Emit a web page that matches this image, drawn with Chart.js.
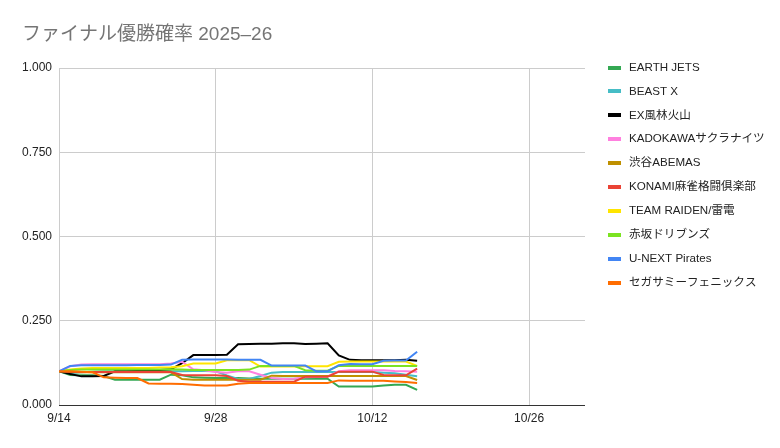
<!DOCTYPE html>
<html>
<head>
<meta charset="utf-8">
<script src="https://cdn.jsdelivr.net/npm/chart.js@4"></script>
<style>
html,body{margin:0;padding:0;background:#fff;}
#wrap{width:780px;height:448px;}
</style>
</head>
<body>
<div id="wrap"><canvas id="c" width="780" height="448"></canvas></div>
<script>
const chartTitle = 'ファイナル優勝確率 2025–26';
const dates = ['9/14','9/15','9/16','9/17','9/18','9/19','9/20','9/21','9/22','9/23','9/24','9/25','9/26','9/27','9/28','9/29','9/30',
  '10/1','10/2','10/3','10/4','10/5','10/6','10/7','10/8','10/9','10/10','10/11','10/12','10/13','10/14','10/15','10/16'];
const tickLabels = ['9/14','9/28','10/12','10/26'];
const axisEnd = '10/31';
const yTicks = [0, 0.25, 0.5, 0.75, 1];

const teams = ['EARTH JETS','BEAST X','EX風林火山','KADOKAWAサクラナイツ','渋谷ABEMAS','KONAMI麻雀格闘倶楽部','TEAM RAIDEN/雷電','赤坂ドリブンズ','U-NEXT Pirates','セガサミーフェニックス'];
const colors = ['#34a853','#46bdc6','#000000','#ff80df','#bf9000','#ea4335','#ffe500','#7be321','#4285f4','#ff6d01'];

const earthJets = [0.100,0.089,0.088,0.088,0.086,0.075,0.075,0.075,0.075,0.075,0.090,0.088,0.082,0.081,0.080,0.080,0.080,
  0.079,0.078,0.078,0.078,0.078,0.078,0.078,0.078,0.055,0.055,0.055,0.055,0.058,0.060,0.060,0.045];
const beastX = [0.100,0.094,0.097,0.099,0.100,0.100,0.100,0.100,0.100,0.100,0.100,0.100,0.101,0.101,0.100,0.088,0.077,
  0.077,0.086,0.096,0.098,0.098,0.098,0.098,0.098,0.098,0.098,0.098,0.098,0.096,0.094,0.090,0.085];
const exFurin = [0.100,0.092,0.085,0.085,0.086,0.100,0.100,0.101,0.102,0.104,0.106,0.124,0.148,0.148,0.148,0.149,0.180,
  0.181,0.182,0.182,0.183,0.183,0.181,0.182,0.183,0.147,0.134,0.133,0.133,0.133,0.133,0.134,0.131];
const kadokawa = [0.100,0.115,0.120,0.121,0.121,0.121,0.121,0.121,0.121,0.121,0.123,0.128,0.106,0.103,0.098,0.096,0.100,
  0.100,0.090,0.080,0.077,0.078,0.082,0.083,0.085,0.100,0.103,0.103,0.103,0.103,0.101,0.100,0.099];
const shibuya = [0.100,0.098,0.097,0.097,0.097,0.097,0.097,0.097,0.097,0.097,0.097,0.077,0.075,0.075,0.075,0.075,0.075,
  0.075,0.075,0.087,0.086,0.086,0.086,0.086,0.086,0.086,0.086,0.086,0.086,0.086,0.086,0.086,0.074];
const konami = [0.100,0.099,0.098,0.098,0.098,0.098,0.098,0.098,0.098,0.098,0.098,0.089,0.088,0.088,0.088,0.086,0.072,
  0.069,0.069,0.069,0.069,0.069,0.084,0.084,0.084,0.099,0.099,0.099,0.099,0.089,0.088,0.088,0.108];
const raiden = [0.100,0.105,0.108,0.110,0.110,0.110,0.110,0.110,0.110,0.111,0.112,0.115,0.123,0.123,0.123,0.133,0.133,
  0.133,0.114,0.114,0.114,0.114,0.115,0.115,0.115,0.128,0.129,0.129,0.129,0.129,0.129,0.129,0.116];
const akasaka = [0.100,0.104,0.105,0.105,0.105,0.105,0.105,0.105,0.105,0.105,0.106,0.105,0.104,0.104,0.104,0.104,0.104,
  0.105,0.116,0.116,0.116,0.116,0.103,0.102,0.102,0.116,0.116,0.116,0.116,0.116,0.116,0.116,0.116];
const unext = [0.100,0.116,0.118,0.118,0.118,0.118,0.118,0.119,0.119,0.119,0.120,0.134,0.135,0.135,0.135,0.135,0.134,
  0.134,0.134,0.117,0.117,0.117,0.117,0.100,0.100,0.118,0.122,0.121,0.121,0.131,0.132,0.132,0.158];
const segasammy = [0.100,0.100,0.099,0.097,0.082,0.081,0.080,0.080,0.064,0.063,0.063,0.062,0.060,0.058,0.058,0.058,0.063,
  0.065,0.065,0.065,0.065,0.065,0.065,0.065,0.065,0.073,0.072,0.072,0.072,0.072,0.070,0.068,0.065];

const seriesValues = [earthJets, beastX, exFurin, kadokawa, shibuya, konami, raiden, akasaka, unext, segasammy];

function dayOf(s){
  const p = s.split('/').map(Number);
  return Math.round((Date.UTC(2025, p[0]-1, p[1]) - Date.UTC(2025, 8, 14)) / 864e5);
}
const xs = dates.map(dayOf);
const tickDays = tickLabels.map(dayOf);

const FONT = "'Liberation Sans', Arial, 'Noto Sans CJK JP', sans-serif";
const n = teams.length;
const datasets = teams.map((t, i) => ({
  label: t,
  data: seriesValues[i].map((v, k) => ({x: xs[k], y: v})),
  borderColor: colors[i],
  backgroundColor: colors[i],
  borderWidth: 2,
  pointRadius: 0,
  tension: 0,
  order: n - 1 - i
}));

const overlay = {
  id: 'overlay',
  afterDraw(chart) {
    const ctx = chart.ctx;
    ctx.save();
    ctx.fillStyle = '#757575';
    ctx.font = '19px ' + FONT;
    ctx.textBaseline = 'alphabetic';
    ctx.textAlign = 'left';
    ctx.fillText(chartTitle, 22, 40);
    ctx.font = '11.6px ' + FONT;
    ctx.textBaseline = 'middle';
    chart.data.datasets.forEach((ds, i) => {
      const y = 67.5 + i * 23.93;
      ctx.fillStyle = ds.borderColor;
      ctx.fillRect(608, Math.round(y) - 2, 13, 4);
      ctx.fillStyle = '#222222';
      ctx.fillText(ds.label, 629, y);
    });
    ctx.restore();
  }
};

new Chart(document.getElementById('c'), {
  type: 'line',
  data: { datasets },
  options: {
    responsive: false,
    animation: false,
    events: [],
    layout: { padding: { top: 68, right: 195, bottom: 0, left: 0 } },
    plugins: { legend: { display: false }, title: { display: false }, tooltip: { enabled: false } },
    scales: {
      x: {
        type: 'linear',
        min: 0,
        max: dayOf(axisEnd),
        afterBuildTicks: (s) => { s.ticks = tickDays.map(v => ({ value: v })); },
        afterFit: (s) => { s.height = 43; },
        border: { display: false },
        grid: { color: '#cccccc', lineWidth: 1, drawTicks: false },
        ticks: {
          padding: 6,
          maxRotation: 0,
          autoSkip: false,
          color: '#222222',
          font: { family: FONT, size: 12 },
          callback: (v) => { const i = tickDays.indexOf(v); return i >= 0 ? tickLabels[i] : ''; }
        }
      },
      y: {
        min: 0,
        max: 1,
        afterBuildTicks: (s) => { s.ticks = yTicks.map(v => ({ value: v })); },
        afterFit: (s) => { s.width = 59; },
        border: { display: false },
        grid: { color: (c) => (c.tick && c.tick.value === 0 ? '#333333' : '#cccccc'), lineWidth: 1, drawTicks: false },
        ticks: {
          padding: 7,
          color: '#222222',
          font: { family: FONT, size: 12 },
          callback: (v) => Number(v).toFixed(3)
        }
      }
    }
  },
  plugins: [overlay]
});
</script>
</body>
</html>
